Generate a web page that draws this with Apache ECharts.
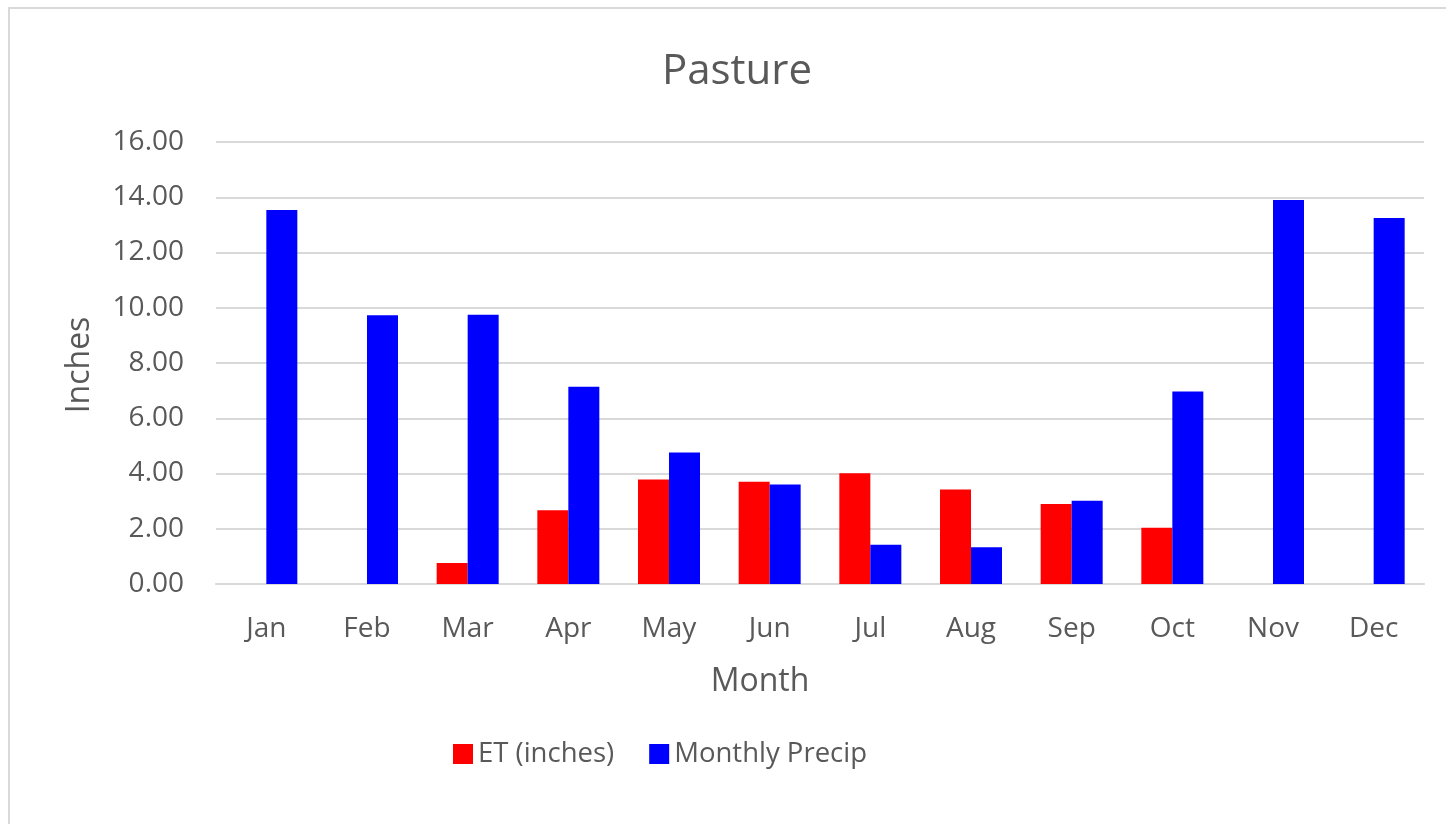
<!DOCTYPE html>
<html>
<head>
<meta charset="utf-8">
<script src="https://cdn.jsdelivr.net/npm/echarts@6/dist/echarts.min.js"></script>
<style>
html,body{margin:0;padding:0;background:#fff;}
#chart{width:1446px;height:824px;}
</style>
</head>
<body>
<div id="chart"></div>
<script>
var months = ['Jan','Feb','Mar','Apr','May','Jun','Jul','Aug','Sep','Oct','Nov','Dec'];
var etInches = [0, 0, 0.76, 2.67, 3.78, 3.70, 4.01, 3.42, 2.90, 2.04, 0, 0];
var monthlyPrecip = [13.54, 9.73, 9.75, 7.14, 4.76, 3.60, 1.42, 1.33, 3.01, 6.97, 13.90, 13.25];
var yTicks = [0, 2, 4, 6, 8, 10, 12, 14, 16];

var FONT = '"Open Sans", "Noto Sans", sans-serif';
var GREY = '#595959';
var chart = echarts.init(document.getElementById('chart'));
chart.setOption({
  backgroundColor: '#ffffff',
  animation: false,
  title: {
    text: 'Pasture',
    left: 732,
    top: 46,
    textAlign: 'center',
    textStyle: {fontFamily: FONT, fontSize: 42, fontWeight: 'normal', color: GREY}
  },
  legend: {
    left: 448,
    top: 735,
    itemWidth: 20,
    itemHeight: 20,
    itemGap: 35,
    icon: 'rect',
    textStyle: {fontFamily: FONT, fontSize: 27.5, color: GREY},
    data: ['ET (inches)', 'Monthly Precip']
  },
  graphic: [
    {type: 'rect', silent: true, z: -1,
     shape: {x: 9, y: 8, width: 1460, height: 840},
     style: {fill: 'none', stroke: '#d9d9d9', lineWidth: 2}},
    {type: 'text', silent: true, x: 760, y: 682,
     style: {text: 'Month', font: '32px ' + FONT, fill: GREY, textAlign: 'center', textVerticalAlign: 'middle'}},
    {type: 'text', silent: true, x: 80, y: 365, rotation: Math.PI / 2,
     style: {text: 'Inches', font: '32px ' + FONT, fill: GREY, textAlign: 'center', textVerticalAlign: 'middle'}}
  ],
  grid: {left: 216, right: 22, top: 142, bottom: 240, containLabel: false},
  xAxis: {
    type: 'category',
    data: months,
    axisLine: {lineStyle: {color: '#d9d9d9', width: 2}},
    axisTick: {show: false},
    axisLabel: {fontFamily: FONT, fontSize: 28, color: GREY, margin: 31}
  },
  yAxis: {
    type: 'value',
    min: yTicks[0],
    max: yTicks[yTicks.length - 1],
    interval: 2,
    axisLine: {show: false},
    axisTick: {show: false},
    splitLine: {lineStyle: {color: '#d9d9d9', width: 2}},
    axisLabel: {fontFamily: FONT, fontSize: 28, color: GREY, margin: 32,
      formatter: function (v) { return v.toFixed(2); }}
  },
  series: [
    {name: 'ET (inches)', type: 'bar', data: etInches, barWidth: 31, barGap: '0%',
     itemStyle: {color: '#ff0000'}},
    {name: 'Monthly Precip', type: 'bar', data: monthlyPrecip, barWidth: 31, barGap: '0%',
     itemStyle: {color: '#0000ff'}}
  ]
});
</script>
</body>
</html>
